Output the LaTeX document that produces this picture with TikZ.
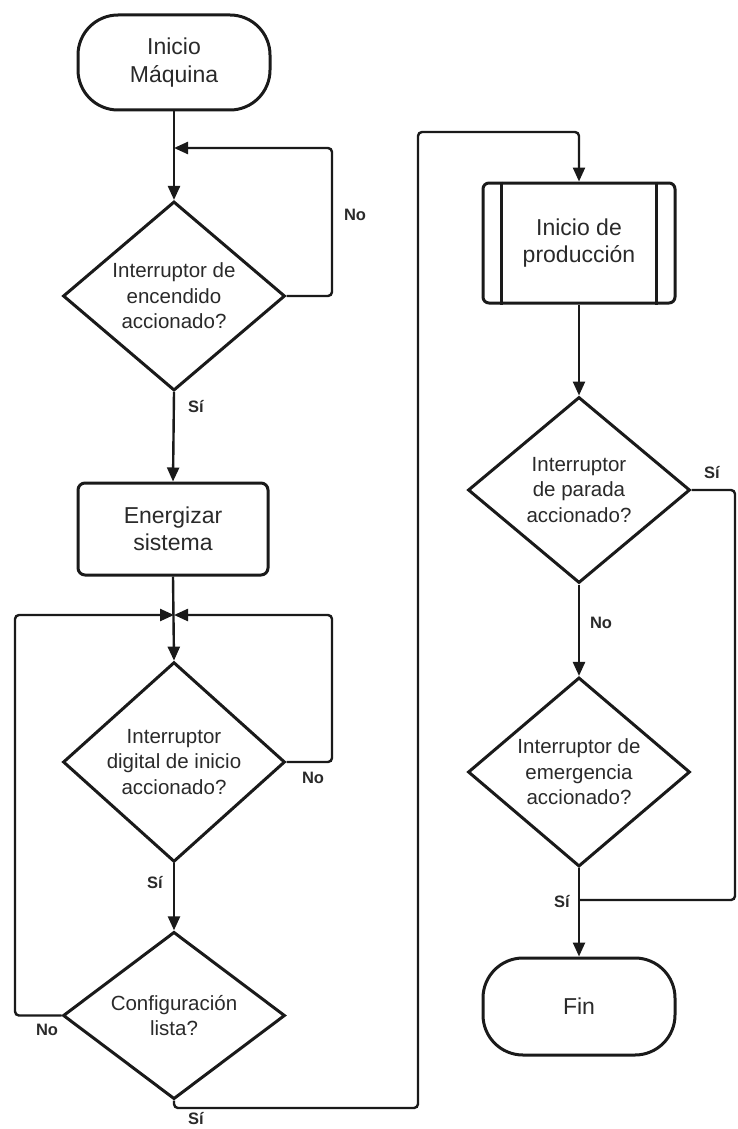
\documentclass[tikz,border=0pt]{standalone}
\usepackage{fontspec}
\setmainfont{Liberation Sans}
\usetikzlibrary{shapes.geometric,arrows.meta}
\definecolor{ink}{HTML}{1A1A1A}
\definecolor{txt}{HTML}{2A2A2A}
\tikzset{
  shapeline/.style={draw=ink, line width=3pt, fill=white, text=txt, align=center, inner sep=0pt},
  terminal/.style={shapeline, rectangle, rounded corners=40pt, minimum width=192pt,
    font=\fontsize{23}{27.5}\selectfont},
  process/.style={shapeline, rectangle, rounded corners=7pt, minimum width=190pt,
    font=\fontsize{23}{27.5}\selectfont},
  decision/.style={shapeline, diamond, minimum width=222pt,
    font=\fontsize{20.5}{25.5}\selectfont},
  flow/.style={draw=ink, line width=2.4pt, rounded corners=4pt},
  arrowflow/.style={flow, -{Triangle[length=14pt,width=12pt]}},
  lbl/.style={text=txt, font=\bfseries\fontsize{16.5}{19}\selectfont, inner sep=0pt}
}
\begin{document}
\begin{tikzpicture}[x=1pt,y=-1pt]
\useasboundingbox[fill=white] (0,0) rectangle (737,1129);

% left column
\node[terminal, minimum height=95pt] (start) at (174,62.5) {Inicio\\Máquina};
\node[decision, minimum height=182pt] (d1) at (174,296) {Interruptor de\\encendido\\accionado?};
\node[process, minimum height=92pt] (energ) at (173,529) {Energizar\\sistema};
\node[decision, minimum height=180pt] (d2) at (174,762) {Interruptor\\digital de inicio\\accionado?};
\node[decision, minimum height=125pt] (d3) at (174,1015.5) {Configuración\\lista?};

% right column
\node[process, minimum width=192pt, minimum height=120pt, rounded corners=6pt] (sub) at (579,243) {Inicio de\\producción};
\draw[draw=ink, line width=3pt] ([xshift=20pt]sub.north west) -- ([xshift=20pt]sub.south west);
\draw[draw=ink, line width=3pt] ([xshift=-20pt]sub.north east) -- ([xshift=-20pt]sub.south east);
\node[decision, minimum height=186pt] (d4) at (579,490) {Interruptor\\de parada\\accionado?};
\node[decision, minimum height=188pt] (d5) at (579,772) {Interruptor de\\emergencia\\accionado?};
\node[terminal, minimum height=97pt] (fin) at (579,1006.5) {Fin};

% junction and bend points
\coordinate (m1) at (174,148);
\coordinate (r1a) at (332,296);
\coordinate (r1b) at (332,148);
\coordinate (m2) at (174,615);
\coordinate (r2a) at (332,762);
\coordinate (r2b) at (332,615);
\coordinate (l3a) at (15,1015.5);
\coordinate (l3b) at (15,615);
\coordinate (b3a) at (174,1108);
\coordinate (b3b) at (418,1108);
\coordinate (b3c) at (418,132);
\coordinate (b3d) at (579,132);
\coordinate (r4a) at (735,490);
\coordinate (r4b) at (735,900);
\coordinate (j5) at (579,900);

% connectors
\draw[arrowflow] (start.south) -- (d1.north);
\draw[arrowflow] (d1.east) -- (r1a) -- (r1b) -- (m1);
\draw[arrowflow] (d1.south) -- (energ.north);
\draw[arrowflow] (energ.south) -- (d2.north);
\draw[arrowflow] (d2.east) -- (r2a) -- (r2b) -- (m2);
\draw[arrowflow] (d3.west) -- (l3a) -- (l3b) -- (m2);
\draw[arrowflow] (d2.south) -- (d3.north);
\draw[arrowflow] (d3.south) -- (b3a) -- (b3b) -- (b3c) -- (b3d) -- (sub.north);
\draw[arrowflow] (sub.south) -- (d4.north);
\draw[arrowflow] (d4.south) -- (d5.north);
\draw[flow] (d4.east) -- (r4a) -- (r4b) -- (j5);
\draw[arrowflow] (d5.south) -- (fin.north);

% branch labels
\node[lbl] (n1) at (355,215) {No};
\node[lbl] (s1) at (196,407) {Sí};
\node[lbl] (n2) at (313,778) {No};
\node[lbl] (s2) at (155,883) {Sí};
\node[lbl] (n3) at (47,1030) {No};
\node[lbl] (s3) at (196,1119) {Sí};
\node[lbl] (s4) at (712,473) {Sí};
\node[lbl] (n4) at (601,623) {No};
\node[lbl] (s5) at (562,902) {Sí};
\end{tikzpicture}
\end{document}
